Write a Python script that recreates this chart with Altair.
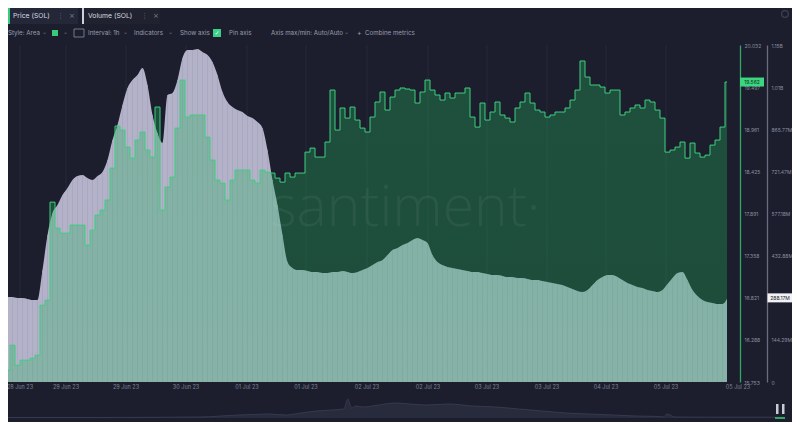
import altair as alt
import pandas as pd

# ---------------- data ----------------
price = [15.903, 16.220, 15.966, 16.030, 16.030, 16.055, 16.093, 16.728, 16.792, 18.037,
         17.707, 17.643, 17.643, 17.745, 17.745, 17.745, 17.491, 17.681, 17.872, 17.936,
         18.063, 18.469, 19.003, 18.952, 18.736, 18.596, 18.825, 18.927, 18.698, 18.609,
         19.244, 17.936, 18.228, 18.355, 18.977, 19.587, 19.117, 19.143, 19.143, 19.143,
         18.863, 18.571, 18.317, 18.279, 18.063, 18.317, 18.444, 18.444, 18.444, 18.317,
         18.279, 18.444, 18.418, 18.406, 18.342, 18.291, 18.406, 18.355, 18.406, 18.406,
         18.672, 18.723, 18.609, 18.609, 18.800, 19.460, 18.952, 19.232, 19.104, 19.244,
         19.079, 18.977, 18.927, 19.117, 19.308, 19.435, 19.206, 19.371, 19.460, 19.486,
         19.473, 19.460, 19.295, 19.435, 19.587, 19.460, 19.397, 19.333, 19.422, 19.359,
         19.422, 19.422, 19.486, 19.117, 18.990, 19.295, 19.079, 19.181, 19.308, 19.143,
         19.104, 19.054, 19.232, 19.308, 19.422, 19.295, 19.206, 19.181, 19.117, 19.143,
         19.181, 19.181, 19.232, 19.333, 19.460, 19.829, 19.625, 19.524, 19.524, 19.498,
         19.422, 19.460, 19.460, 19.143, 19.181, 19.232, 19.270, 19.232, 19.333, 19.308,
         19.206, 19.104, 18.672, 18.698, 18.736, 18.800, 18.596, 18.787, 18.660, 18.609,
         18.634, 18.761, 18.825, 18.990, 19.562]

volume_m = [291.1, 291.1, 287.7, 287.7, 284.3, 280.9, 280.9, 383.6, 503.5, 578.9,
            606.3, 640.5, 664.5, 691.9, 705.6, 709.0, 698.7, 691.9, 705.6, 719.3,
            760.4, 828.9, 880.3, 948.8, 1007.0, 1034.4, 1051.5, 1075.5, 1017.3, 914.5,
            852.9, 818.6, 983.0, 989.9, 1034.4, 1109.8, 1137.2, 1137.2, 1140.6, 1130.3,
            1120.0, 1096.1, 1051.5, 993.3, 959.1, 941.9, 931.7, 924.8, 911.1, 904.3,
            890.6, 870.0, 794.6, 691.9, 606.3, 503.5, 411.0, 390.5, 383.6, 383.6,
            380.2, 376.8, 376.8, 373.3, 373.3, 376.8, 376.8, 380.2, 376.8, 373.3,
            376.8, 383.6, 390.5, 400.7, 411.0, 417.9, 435.0, 452.1, 459.0, 469.3,
            476.1, 486.4, 493.2, 486.4, 476.1, 435.0, 411.0, 400.7, 393.9, 390.5,
            387.0, 383.6, 380.2, 376.8, 376.8, 373.3, 369.9, 366.5, 366.5, 363.1,
            359.6, 359.6, 356.2, 356.2, 352.8, 349.4, 349.4, 345.9, 342.5, 339.1,
            335.7, 332.2, 325.4, 318.5, 311.7, 308.3, 315.1, 332.2, 349.4, 359.6,
            366.5, 366.5, 359.6, 349.4, 339.1, 332.2, 325.4, 322.0, 315.1, 311.7,
            308.3, 315.1, 335.7, 356.2, 373.3, 376.8, 349.4, 315.1, 294.6, 280.9,
            274.0, 270.6, 267.2, 267.2, 288.17]

x_label_pos = [3, 12.2, 24.2, 36.2, 48.4, 60.2, 72.4, 84.6, 96.4, 108.4, 120.2, 132.2, 146.6]
x_label_text = ["28 Jun 23", "29 Jun 23", "29 Jun 23", "30 Jun 23", "01 Jul 23", "01 Jul 23",
                "02 Jul 23", "02 Jul 23", "03 Jul 23", "03 Jul 23", "04 Jul 23", "05 Jul 23",
                "05 Jul 23"]

price_ticks = [15.753, 16.288, 16.821, 17.358, 17.891, 18.425, 18.961, 19.497, 20.032]
volume_ticks_m = [0, 144.29, 288.58, 432.88, 577.18, 721.47, 865.77, 1010.06, 1154.35]

nav_pos = [0.0, 0.12, 0.25, 0.30, 0.32, 0.34, 0.36, 0.38, 0.40, 0.42, 0.435, 0.44, 0.445,
           0.45, 0.46, 0.48, 0.50, 0.52, 0.54, 0.57, 0.60, 0.63, 0.66, 0.69, 0.72, 0.75,
           0.78, 0.81, 0.84, 0.845, 0.85, 0.86, 0.90, 0.95, 1.0]
nav_val = [0.5, 0.5, 1.0, 3.0, 3.5, 4.0, 3.0, 5.0, 7.0, 8.0, 9.0, 19.0, 10.0,
           12.0, 11.0, 13.0, 15.0, 14.0, 13.0, 14.0, 12.0, 11.0, 9.0, 7.0, 5.0, 4.0,
           3.0, 2.0, 1.5, 1.0, 4.0, 1.0, 0.8, 0.8, 0.8]

# ---------------- frames ----------------
n = len(price)
df = pd.DataFrame({"i": list(range(n)), "price": price, "vol": volume_m})
df_ext = pd.concat([df, pd.DataFrame({"i": [n], "price": [price[-1]], "vol": [volume_m[-1]]})],
                   ignore_index=True)
lab = pd.DataFrame({"pos": x_label_pos, "label": x_label_text})
nav = pd.DataFrame({"p": nav_pos, "v": nav_val})
one = pd.DataFrame({"d": [0]})

BG = "#1c1e2d"
FONT = "Inter"
GREEN = "#3ccf7e"
W, H = 719, 337

xscale = alt.Scale(domain=[0.6, 144.4], nice=False, zero=False)
pscale = alt.Scale(domain=[price_ticks[0], price_ticks[-1]], nice=False, zero=False)
vscale = alt.Scale(domain=[0, volume_ticks_m[-1]], nice=False, zero=True)

# vertical grid at label positions
grid = alt.Chart(lab).transform_filter("datum.pos < 144.4").mark_rule(
    color="#252839", strokeWidth=1).encode(
    x=alt.X("pos:Q", scale=xscale, axis=None), y=alt.value(0), y2=alt.value(H))

# volume: smooth area with thin hourly stripes
vbase = alt.Chart(df).transform_calculate(c="datum.i + 0.5", zero="0")
vol_area = vbase.mark_area(interpolate="monotone", color="#b3b2c9", clip=True).encode(
    x=alt.X("c:Q", scale=xscale, axis=None),
    y=alt.Y("vol:Q", scale=vscale,
            axis=alt.Axis(orient="right", offset=40, values=volume_ticks_m, ticks=False,
                          grid=False, domainColor="#6a6d7e", domainWidth=1.3,
                          labelColor="#8b8fa0", labelFontSize=5, labelFont=FONT,
                          labelPadding=4, labelOverlap=False, title=None,
                          labelExpr="datum.value == 0 ? '0' : datum.value >= 1000 ? format(datum.value/1000, '.2f') + 'B' : format(datum.value, '.2f') + 'M'")),
)
vol_stripes = vbase.mark_rule(color="#a4a3bc", strokeWidth=0.7, clip=True).encode(
    x=alt.X("c:Q", scale=xscale), y=alt.Y("vol:Q", scale=vscale), y2="zero:Q")
vol_badge_bg = alt.Chart(df.tail(1)).mark_tick(
    orient="horizontal", color="#f2f2f6", thickness=9, size=25, opacity=1).encode(
    x=alt.value(W + 53), y=alt.Y("vol:Q", scale=vscale))
vol_badge_tx = alt.Chart(df.tail(1)).transform_calculate(
    t="format(datum.vol, '.2f') + 'M'").mark_text(
    fontSize=5, font=FONT, color="#15171f", align="center", baseline="middle").encode(
    x=alt.value(W + 53), y=alt.Y("vol:Q", scale=vscale), text="t:N")
volume_group = alt.layer(vol_area, vol_stripes, vol_badge_bg, vol_badge_tx)

# price area
pgrad = alt.Gradient(gradient="linear",
                     stops=[alt.GradientStop(color="rgba(34,178,92,0.34)", offset=0),
                            alt.GradientStop(color="rgba(34,178,92,0.26)", offset=0.5),
                            alt.GradientStop(color="rgba(34,178,92,0.07)", offset=1)],
                     x1=1, x2=1, y1=0, y2=1)
p_area = alt.Chart(df_ext).mark_area(interpolate="step-after", fill=pgrad, clip=True).encode(
    x=alt.X("i:Q", scale=xscale, axis=None),
    y=alt.Y("price:Q", scale=pscale,
            axis=alt.Axis(orient="right", offset=13, values=price_ticks, format=".3f",
                          ticks=False, grid=False, domainColor="#2fa866", domainWidth=1.3,
                          labelColor="#8b8fa0", labelFontSize=5, labelFont=FONT,
                          labelPadding=4, labelOverlap=False, title=None)))
p_line = alt.Chart(df_ext).mark_line(interpolate="step-after", color=GREEN,
                                     strokeWidth=1, clip=True).encode(
    x=alt.X("i:Q", scale=xscale), y=alt.Y("price:Q", scale=pscale))
p_badge_bg = alt.Chart(df.tail(1)).mark_tick(
    orient="horizontal", color="#3bd67f", thickness=9, size=24, opacity=1).encode(
    x=alt.value(W + 25), y=alt.Y("price:Q", scale=pscale))
p_badge_tx = alt.Chart(df.tail(1)).mark_text(
    fontSize=5, font=FONT, color="#10301c", align="center", baseline="middle").encode(
    x=alt.value(W + 25), y=alt.Y("price:Q", scale=pscale),
    text=alt.Text("price:Q", format=".3f"))
price_group = alt.layer(p_area, p_line, p_badge_bg, p_badge_tx)

# x labels
xlabels = alt.Chart(lab).mark_text(fontSize=5.5, font=FONT, color="#7f8395",
                                   baseline="middle", align="center").encode(
    x=alt.X("pos:Q", scale=xscale), y=alt.value(H + 4.5), text="label:N")

# watermark
watermark = alt.Chart(one).mark_text(
    text="santiment·", fontSize=57, font="Open Sans", fontWeight=300, color="#ffffff",
    opacity=0.05, align="left", baseline="alphabetic").encode(
    x=alt.value(262), y=alt.value(181))


def txt(s, x, y, color="#9a9eae", size=6.2, align="left", font=FONT, weight="normal"):
    return alt.Chart(one).mark_text(text=s, fontSize=size, font=font, color=color,
                                    align=align, baseline="middle", fontWeight=weight).encode(
        x=alt.value(x), y=alt.value(y))


def box(x1, x2, y1, y2, fill, stroke=None, sw=0, op=1.0):
    kw = dict(color=fill, opacity=op)
    if stroke:
        kw.update(stroke=stroke, strokeWidth=sw)
    return alt.Chart(one).mark_rect(**kw).encode(
        x=alt.value(x1), x2=alt.value(x2), y=alt.value(y1), y2=alt.value(y2))


toolbar = [
    box(0, 70, -38, -21, "#242738"),
    box(74, 152, -38, -21, "#20232f"),
    box(0, 2, -38, -21, "#38cc7c"),
    box(74, 76, -38, -21, "#cfd0da"),
    txt("Price (SOL)", 5, -29.5, "#d8dae2", 6.8),
    txt("⋮", 49, -29.5, "#6d7183", 7, font="DejaVu Sans"),
    txt("×", 61, -29.5, "#7d8193", 7, font="DejaVu Sans"),
    txt("Volume (SOL)", 80, -29.5, "#d8dae2", 6.8),
    txt("⋮", 133, -29.5, "#6d7183", 7, font="DejaVu Sans"),
    txt("×", 145, -29.5, "#7d8193", 7, font="DejaVu Sans"),
    txt("Style: Area", 0, -12),
    txt("⌄", 34, -13.5, "#6d7183", 6, font="DejaVu Sans"),
    box(44, 50, -15, -9, "#38c97a"),
    txt("⌄", 55, -13.5, "#6d7183", 6, font="DejaVu Sans"),
    box(66, 76, -16, -8, BG, stroke="#8a8ea0", sw=0.8),
    txt("Interval: 1h", 80, -12),
    txt("⌄", 115, -13.5, "#6d7183", 6, font="DejaVu Sans"),
    txt("Indicators", 126, -12),
    txt("⌄", 160, -13.5, "#6d7183", 6, font="DejaVu Sans"),
    txt("Show axis", 172, -12),
    box(205, 213, -16, -8, "#3ad08a"),
    txt("✓", 209, -12, "#ffffff", 6, align="center", font="DejaVu Sans"),
    txt("Pin axis", 221, -12),
    txt("Axis max/min: Auto/Auto", 263, -12),
    txt("⌄", 336, -13.5, "#6d7183", 6, font="DejaVu Sans"),
    txt("+", 349, -12, "#9a9eae", 7),
    txt("Combine metrics", 357, -12),
]
logo = alt.Chart(one).mark_point(shape="circle", size=45, filled=False, color="#4d5162",
                                 strokeWidth=1.2).encode(x=alt.value(777), y=alt.value(-31))

main = alt.layer(grid, volume_group, price_group, xlabels, watermark, *toolbar, logo
                 ).resolve_scale(y="independent")

# navigator
navx = alt.Scale(domain=[0, 1], range=[-3, 776], nice=False, zero=False)
navy = alt.Scale(domain=[0, 25], range=[373, 348], nice=False, zero=True)
nav_area = alt.Chart(nav).mark_area(interpolate="monotone", color="#2c3043",
                                    line={"color": "#3a3f55", "strokeWidth": 0.8}).encode(
    x=alt.X("p:Q", scale=navx, axis=None), y=alt.Y("v:Q", scale=navy, axis=None))
nav_handles = [
    box(768, 770.5, 359, 369, "#c9cad4"),
    box(774, 776.5, 359, 369, "#c9cad4"),
    box(767, 777, 372, 374, "#2fa866"),
]
navigator = alt.layer(nav_area, *nav_handles)

chart = alt.layer(main, navigator).resolve_scale(x="independent", y="independent").properties(
    width=W, height=H, background=BG,
    padding={"left": 0, "top": 37, "right": 65, "bottom": 40},
    autosize=alt.AutoSizeParams(type="none"),
).configure_view(stroke=None).configure_axis(domainCap="butt")

chart.save("out.html", embed_options={"renderer": "svg", "actions": False})
